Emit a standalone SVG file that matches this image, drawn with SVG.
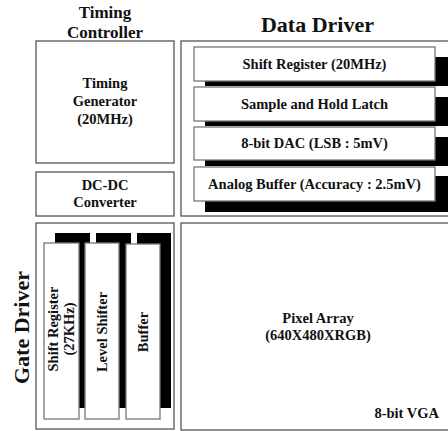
<svg xmlns="http://www.w3.org/2000/svg" width="448" height="431" viewBox="0 0 448 431">
<style>
text{font-family:"Liberation Serif","Times New Roman",serif;font-weight:bold;fill:#111}
.t{font-size:14.5px;text-anchor:middle}
.title{font-size:22px;text-anchor:middle}
.sub{font-size:17px;text-anchor:middle}
.outer{fill:#fff;stroke:#555;stroke-width:1.3}
.inner{fill:#fff;stroke:#777;stroke-width:1.3}
.sh{fill:#000}
</style>
<rect width="448" height="431" fill="#fff"/>

<g id="timing-controller">
<text class="sub" x="105" y="18">Timing</text>
<text class="sub" x="105" y="38">Controller</text>
<rect class="outer" x="36" y="41" width="138" height="122"/>
<text class="t" x="105" y="88">Timing</text>
<text class="t" x="105" y="106">Generator</text>
<text class="t" x="105" y="124">(20MHz)</text>
</g>

<g id="dc-dc">
<rect class="outer" x="36" y="172" width="138" height="44"/>
<text class="t" x="105" y="190">DC-DC</text>
<text class="t" x="105" y="207">Converter</text>
</g>

<g id="data-driver">
<text class="title" x="317.5" y="32">Data Driver</text>
<rect class="outer" x="181" y="41" width="280" height="175"/>
<rect class="sh" x="205" y="57" width="243" height="29"/>
<rect class="inner" x="194" y="47" width="241" height="34"/>
<text class="t" x="314.5" y="69">Shift Register (20MHz)</text>
<rect class="sh" x="205" y="97" width="243" height="29"/>
<rect class="inner" x="194" y="87" width="241" height="34"/>
<text class="t" x="314.5" y="109">Sample and Hold Latch</text>
<rect class="sh" x="205" y="137" width="243" height="29"/>
<rect class="inner" x="194" y="127" width="241" height="33"/>
<text class="t" x="314.5" y="148">8-bit DAC (LSB : 5mV)</text>
<rect class="sh" x="205" y="176" width="243" height="36"/>
<rect class="inner" x="194" y="167" width="241" height="34"/>
<text class="t" x="314.5" y="189">Analog Buffer (Accuracy : 2.5mV)</text>
</g>

<g id="gate-driver">
<text class="title" transform="translate(29,327.5) rotate(-90)" x="0" y="0">Gate Driver</text>
<rect class="outer" x="36" y="223" width="138" height="206"/>
<rect class="sh" x="55" y="233" width="35" height="175"/>
<rect class="sh" x="96" y="233" width="35" height="175"/>
<rect class="sh" x="137" y="233" width="34" height="175"/>
<rect class="inner" x="44" y="243" width="35" height="176"/>
<rect class="inner" x="85" y="243" width="34" height="176"/>
<rect class="inner" x="126" y="244" width="34" height="175"/>
<text class="t" transform="translate(58,329) rotate(-90)">Shift Register</text>
<text class="t" transform="translate(74,329) rotate(-90)">(27KHz)</text>
<text class="t" transform="translate(106.5,332) rotate(-90)">Level Shifter</text>
<text class="t" transform="translate(147.5,332) rotate(-90)">Buffer</text>
</g>

<g id="pixel-array">
<rect class="outer" x="181" y="223" width="280" height="207"/>
<text class="t" x="318" y="323">Pixel Array</text>
<text class="t" x="318" y="340">(640X480XRGB)</text>
<text class="t" x="439" y="418" style="text-anchor:end">8-bit VGA</text>
</g>

<g id="connectors"></g>
</svg>
